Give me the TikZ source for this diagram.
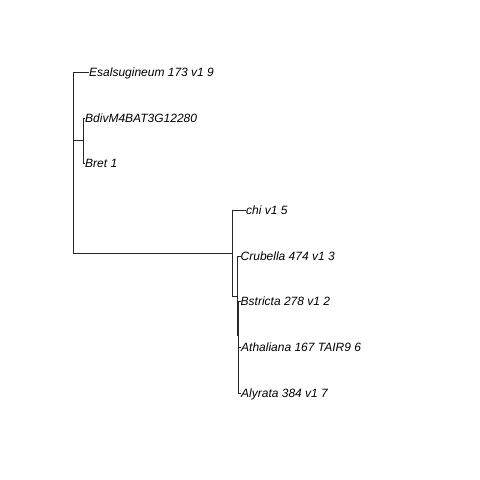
\documentclass[tikz,border=0pt]{standalone}
\usepackage{fontspec}
\setmainfont{Liberation Sans}
\begin{document}
\begin{tikzpicture}[x=1pt,y=-1pt,
  edge/.style={draw=black!85,line width=0.75pt},
  lab/.style={anchor=base west,inner sep=0pt,yshift=-4.3pt,
    font=\fontsize{12}{14}\selectfont\itshape}]
\fill[white] (0,0) rectangle (480,480);
\useasboundingbox (0,0) rectangle (480,480);
% internal nodes
\coordinate (R) at (73,134.4);
\coordinate (E) at (73,196.75);
\coordinate (Bn) at (83.3,140.5);
\coordinate (A) at (232.5,253);
\coordinate (B) at (237,296);
\coordinate (C) at (238,335.5);
\coordinate (D) at (238.5,370);
% tips
\coordinate (tEsal) at (89,72);
\coordinate (tBdiv) at (85,118);
\coordinate (tBret) at (85,163);
\coordinate (tchi) at (246,210);
\coordinate (tCrub) at (240.5,256);
\coordinate (tBstr) at (240.5,301);
\coordinate (tAtha) at (241,347);
\coordinate (tAlyr) at (241,393);
% labels
\node[lab] (Esal) at (tEsal) {Esalsugineum 173 v1 9};
\node[lab] (Bdiv) at (tBdiv) {BdivM4BAT3G12280};
\node[lab] (Bret) at (tBret) {Bret 1};
\node[lab] (chi) at (tchi) {chi v1 5};
\node[lab] (Crub) at (tCrub) {Crubella 474 v1 3};
\node[lab] (Bstr) at (tBstr) {Bstricta 278 v1 2};
\node[lab] (Atha) at (tAtha) {Athaliana 167 TAIR9 6};
\node[lab] (Alyr) at (tAlyr) {Alyrata 384 v1 7};
% edges
\draw[edge] (R) |- (tEsal);
\draw[edge] (R) -- (E);
\draw[edge] (E) |- (Bn);
\draw[edge] (E) |- (A);
\draw[edge] (Bn) |- (tBdiv);
\draw[edge] (Bn) |- (tBret);
\draw[edge] (A) |- (tchi);
\draw[edge] (A) |- (B);
\draw[edge] (B) |- (tCrub);
\draw[edge] (B) |- (C);
\draw[edge] (C) |- (tBstr);
\draw[edge] (C) |- (D);
\draw[edge] (D) |- (tAtha);
\draw[edge] (D) |- (tAlyr);
\end{tikzpicture}
\end{document}
